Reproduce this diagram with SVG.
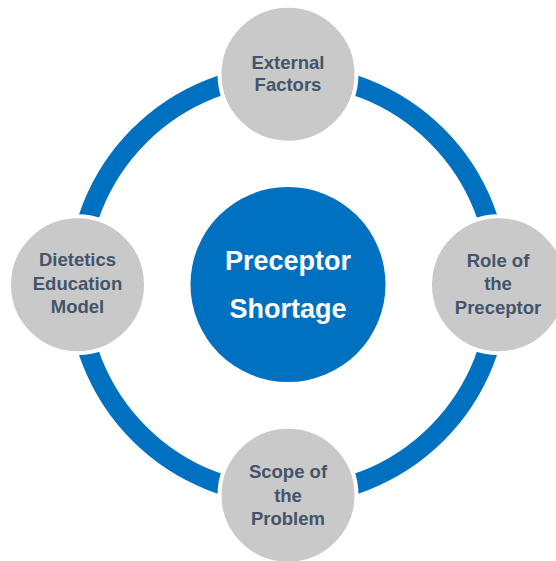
<svg xmlns="http://www.w3.org/2000/svg" width="556" height="561" viewBox="0 0 556 561">
  <style>
    .ring { fill: none; stroke: #0070c0; stroke-width: 20; }
    .outer { fill: #c9c9c9; stroke: #ffffff; stroke-width: 4; }
    .outer-label { font-family: "Liberation Sans", Arial, sans-serif; font-weight: 700; font-size: 18.5px; fill: #44546a; text-anchor: middle; }
    .hub { fill: #0070c0; }
    .hub-label { font-family: "Liberation Sans", Arial, sans-serif; font-weight: 700; font-size: 27px; fill: #ffffff; text-anchor: middle; }
  </style>
  <rect width="556" height="561" fill="#ffffff"/>
  <g id="connectors">
    <path class="ring" d="M288 74.2 A210.5 210.5 0 0 1 498.5 284.7"/>
    <path class="ring" d="M498.5 284.7 A210.5 210.5 0 0 1 288 495.2"/>
    <path class="ring" d="M288 495.2 A210.5 210.5 0 0 1 77.5 284.7"/>
    <path class="ring" d="M77.5 284.7 A210.5 210.5 0 0 1 288 74.2"/>
  </g>
  <g id="hub">
    <circle class="hub" cx="288" cy="284.5" r="97.5"/>
    <text class="hub-label" x="288" y="270">Preceptor</text>
    <text class="hub-label" x="288" y="318">Shortage</text>
  </g>
  <g id="external-factors">
    <circle class="outer" cx="288" cy="74.2" r="68.5"/>
    <text class="outer-label" x="288" y="69">External</text>
    <text class="outer-label" x="288" y="91">Factors</text>
  </g>
  <g id="role-of-preceptor">
    <circle class="outer" cx="498.5" cy="284.7" r="68.5"/>
    <text class="outer-label" x="498" y="266.5">Role of</text>
    <text class="outer-label" x="498" y="290">the</text>
    <text class="outer-label" x="498" y="313.5">Preceptor</text>
  </g>
  <g id="scope-of-problem">
    <circle class="outer" cx="288" cy="495.2" r="68.5"/>
    <text class="outer-label" x="288" y="478">Scope of</text>
    <text class="outer-label" x="288" y="501.5">the</text>
    <text class="outer-label" x="288" y="524.5">Problem</text>
  </g>
  <g id="dietetics-education-model">
    <circle class="outer" cx="77.5" cy="284.7" r="68.5"/>
    <text class="outer-label" x="77.5" y="266">Dietetics</text>
    <text class="outer-label" x="77.5" y="289.5">Education</text>
    <text class="outer-label" x="77.5" y="313">Model</text>
  </g>
</svg>
